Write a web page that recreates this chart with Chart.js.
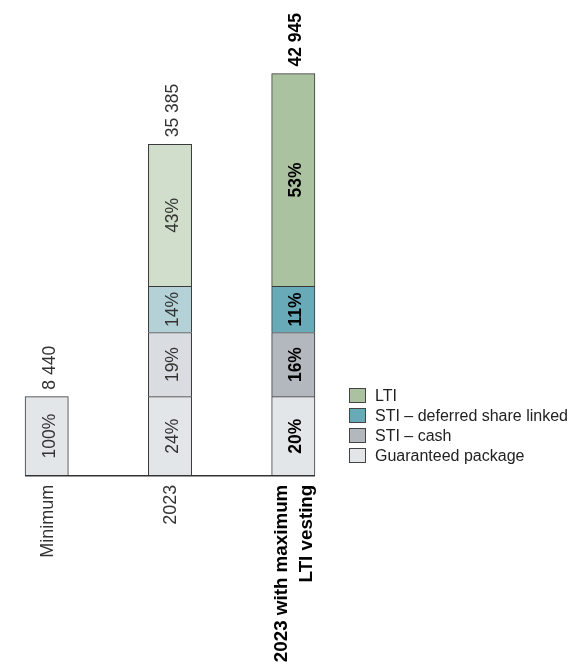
<!DOCTYPE html>
<html><head><meta charset="utf-8">
<script src="https://cdn.jsdelivr.net/npm/chart.js@4"></script>
<style>html,body{margin:0;padding:0;background:#fff}#wrap{width:577px;height:662px;position:relative}</style>
</head><body><div id="wrap"><canvas id="c" width="577" height="662"></canvas></div>
<script>
// ---- data ----
const categories = ['Minimum', '2023', ['2023 with maximum', 'LTI vesting']];
const seriesNames = ['Guaranteed package', 'STI – cash', 'STI – deferred share linked', 'LTI'];
const guaranteed = [8440, 8440, 8440];
const stiCash = [null, 6850, 6850];
const stiDeferred = [null, 4930, 4930];
const lti = [null, 15165, 22725];

// ---- styles ----
const guaranteedColors = ['#e3e6e9', '#e3e6e9', '#e3e6e9'];
const stiCashColors = ['#d9dce0', '#d9dce0', '#b2b8be'];
const stiDeferredColors = ['#b3d1d7', '#b3d1d7', '#68aab8'];
const ltiColors = ['#d1decb', '#d1decb', '#aac2a0'];
const legendColors = ['#e3e6e9', '#b2b8be', '#68aab8', '#aac2a0'];
const FAMILY = '"Liberation Sans", Arial, Helvetica, sans-serif';
const boldIndex = 2;

const seriesData = [guaranteed, stiCash, stiDeferred, lti];
const seriesColors = [guaranteedColors, stiCashColors, stiDeferredColors, ltiColors];
const totals = categories.map((_, i) => seriesData.reduce((s, arr) => s + (arr[i] || 0), 0));
const fmt = n => String(n).replace(/\B(?=(\d{3})+(?!\d))/g, ' ');

const overlay = {
  id: 'overlay',
  afterDatasetsDraw(chart) {
    const ctx = chart.ctx;
    const yScale = chart.scales.y;
    const y0 = yScale.getPixelForValue(0);
    const base = chart.getDatasetMeta(0).data;
    // baseline
    ctx.save();
    ctx.strokeStyle = '#333';
    ctx.lineWidth = 1.5;
    ctx.beginPath();
    ctx.moveTo(base[0].x - base[0].width / 2, y0);
    ctx.lineTo(base[base.length - 1].x + base[base.length - 1].width / 2, y0);
    ctx.stroke();
    ctx.restore();
    // segment percentage labels
    chart.data.datasets.forEach((ds, di) => {
      chart.getDatasetMeta(di).data.forEach((bar, i) => {
        const v = ds.data[i];
        if (v == null) return;
        const pct = Math.round(v / totals[i] * 100) + '%';
        ctx.save();
        ctx.translate(bar.x + 3, (bar.y + bar.base) / 2);
        ctx.rotate(-Math.PI / 2);
        ctx.textAlign = 'center';
        ctx.textBaseline = 'middle';
        ctx.fillStyle = i === boldIndex ? '#000' : '#333';
        ctx.font = (i === boldIndex ? 'bold ' : '') + '17.5px ' + FAMILY;
        ctx.fillText(pct, 0, 0);
        ctx.restore();
      });
    });
    // totals above bars
    base.forEach((bar, i) => {
      const yTop = yScale.getPixelForValue(totals[i]);
      ctx.save();
      ctx.translate(bar.x + 3, yTop - 7);
      ctx.rotate(-Math.PI / 2);
      ctx.textAlign = 'left';
      ctx.textBaseline = 'middle';
      ctx.fillStyle = i === boldIndex ? '#000' : '#333';
      ctx.font = (i === boldIndex ? 'bold ' : '') + '17.5px ' + FAMILY;
      ctx.fillText(fmt(totals[i]), 0, 0);
      ctx.restore();
    });
    // category labels below the baseline
    base.forEach((bar, i) => {
      const lines = [].concat(categories[i]);
      const lh = 25;
      ctx.save();
      ctx.fillStyle = i === boldIndex ? '#000' : '#333';
      ctx.font = (i === boldIndex ? 'bold 18.8px ' : '18px ') + FAMILY;
      ctx.textAlign = 'right';
      ctx.textBaseline = 'middle';
      lines.forEach((ln, k) => {
        const off = (k - (lines.length - 1) / 2) * lh;
        ctx.save();
        ctx.translate(bar.x + 1.5 + off, y0 + 9);
        ctx.rotate(-Math.PI / 2);
        ctx.fillText(ln, 0, 0);
        ctx.restore();
      });
      ctx.restore();
    });
    // legend (reverse order: top series first)
    const order = [3, 2, 1, 0];
    order.forEach((si, k) => {
      const cy = 395.5 + k * 20;
      ctx.save();
      ctx.fillStyle = legendColors[si];
      ctx.fillRect(349.5, cy - 7, 16, 14);
      ctx.strokeStyle = '#444';
      ctx.lineWidth = 1;
      ctx.strokeRect(349.5, cy - 7, 16, 14);
      ctx.fillStyle = '#222';
      ctx.font = '16px ' + FAMILY;
      ctx.textAlign = 'left';
      ctx.textBaseline = 'middle';
      ctx.fillText(seriesNames[si], 375, cy + 1);
      ctx.restore();
    });
  }
};

new Chart(document.getElementById('c'), {
  type: 'bar',
  data: {
    labels: categories,
    datasets: seriesData.map((arr, si) => ({
      label: seriesNames[si],
      data: arr,
      backgroundColor: seriesColors[si],
      borderColor: '#3a3a3a',
      borderWidth: 1,
      barThickness: 43.3,
      clip: false
    }))
  },
  options: {
    responsive: false,
    animation: false,
    layout: { padding: { left: 46.7, right: 283.7, top: 0, bottom: 0 } },
    plugins: { legend: { display: false }, tooltip: { enabled: false } },
    scales: {
      x: {
        stacked: true,
        offset: false,
        grid: { display: false, drawTicks: false },
        border: { display: false },
        ticks: { display: false },
        afterFit: s => { s.height = 186.3; }
      },
      y: { stacked: true, display: false, min: 0, max: 50800 }
    }
  },
  plugins: [overlay]
});
</script>
</body></html>
